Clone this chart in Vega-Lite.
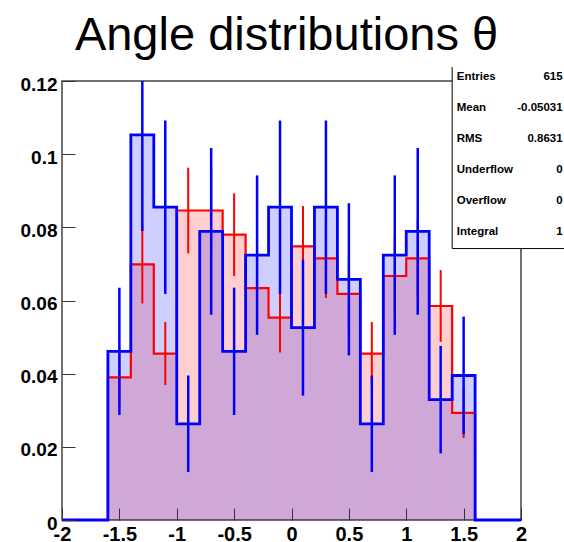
{
  "$schema": "https://vega.github.io/schema/vega-lite/v6.json",
  "width": 459,
  "height": 439,
  "autosize": {"type": "none"},
  "padding": {"left": 62, "top": 81, "right": 43, "bottom": 22},
  "background": "white",
  "title": {
    "text": "Angle distributions θ",
    "font": "Liberation Sans",
    "fontSize": 47,
    "fontWeight": "normal",
    "color": "black",
    "anchor": "middle",
    "frame": "group",
    "baseline": "alphabetic",
    "offset": -30,
    "dx": -5
  },
  "datasets": {
    "bins": [
      {"lo": -2.0, "hi": -1.8, "mid": -1.9, "red": 0, "red_err": 0, "blue": 0, "blue_err": 0},
      {"lo": -1.8, "hi": -1.6, "mid": -1.7, "red": 0, "red_err": 0, "blue": 0, "blue_err": 0},
      {"lo": -1.6, "hi": -1.4, "mid": -1.5, "red": 0.0390, "red_err": 0.0080, "blue": 0.0461, "blue_err": 0.0174},
      {"lo": -1.4, "hi": -1.2, "mid": -1.3, "red": 0.0699, "red_err": 0.0107, "blue": 0.1053, "blue_err": 0.0263},
      {"lo": -1.2, "hi": -1.0, "mid": -1.1, "red": 0.0455, "red_err": 0.0086, "blue": 0.0855, "blue_err": 0.0237},
      {"lo": -1.0, "hi": -0.8, "mid": -0.9, "red": 0.0846, "red_err": 0.0117, "blue": 0.0263, "blue_err": 0.0132},
      {"lo": -0.8, "hi": -0.6, "mid": -0.7, "red": 0.0846, "red_err": 0.0117, "blue": 0.0789, "blue_err": 0.0228},
      {"lo": -0.6, "hi": -0.4, "mid": -0.5, "red": 0.0780, "red_err": 0.0113, "blue": 0.0461, "blue_err": 0.0174},
      {"lo": -0.4, "hi": -0.2, "mid": -0.3, "red": 0.0634, "red_err": 0.0102, "blue": 0.0724, "blue_err": 0.0218},
      {"lo": -0.2, "hi": 0.0, "mid": -0.1, "red": 0.0553, "red_err": 0.0095, "blue": 0.0855, "blue_err": 0.0237},
      {"lo": 0.0, "hi": 0.2, "mid": 0.1, "red": 0.0748, "red_err": 0.0110, "blue": 0.0526, "blue_err": 0.0186},
      {"lo": 0.2, "hi": 0.4, "mid": 0.3, "red": 0.0715, "red_err": 0.0108, "blue": 0.0855, "blue_err": 0.0237},
      {"lo": 0.4, "hi": 0.6, "mid": 0.5, "red": 0.0618, "red_err": 0.0100, "blue": 0.0658, "blue_err": 0.0208},
      {"lo": 0.6, "hi": 0.8, "mid": 0.7, "red": 0.0455, "red_err": 0.0086, "blue": 0.0263, "blue_err": 0.0132},
      {"lo": 0.8, "hi": 1.0, "mid": 0.9, "red": 0.0667, "red_err": 0.0104, "blue": 0.0724, "blue_err": 0.0218},
      {"lo": 1.0, "hi": 1.2, "mid": 1.1, "red": 0.0715, "red_err": 0.0108, "blue": 0.0789, "blue_err": 0.0228},
      {"lo": 1.2, "hi": 1.4, "mid": 1.3, "red": 0.0585, "red_err": 0.0098, "blue": 0.0329, "blue_err": 0.0147},
      {"lo": 1.4, "hi": 1.6, "mid": 1.5, "red": 0.0293, "red_err": 0.0069, "blue": 0.0395, "blue_err": 0.0161},
      {"lo": 1.6, "hi": 1.8, "mid": 1.7, "red": 0, "red_err": 0, "blue": 0, "blue_err": 0},
      {"lo": 1.8, "hi": 2.0, "mid": 1.9, "red": 0, "red_err": 0, "blue": 0, "blue_err": 0}
    ],
    "stats": [
      {"stat": "Entries", "value": "615"},
      {"stat": "Mean", "value": "-0.05031"},
      {"stat": "RMS", "value": "0.8631"},
      {"stat": "Underflow", "value": "0"},
      {"stat": "Overflow", "value": "0"},
      {"stat": "Integral", "value": "1"}
    ]
  },
  "data": {"name": "bins"},
  "layer": [
    {
      "mark": {"type": "rect", "fill": "#ff0000", "fillOpacity": 0.19, "strokeWidth": 0},
      "encoding": {
        "x": {
          "field": "lo", "type": "quantitative",
          "scale": {"domain": [-2, 2], "nice": false, "zero": false},
          "axis": {
            "orient": "bottom", "title": null, "grid": false, "domain": false, "zindex": 1,
            "values": [-2, -1.5, -1, -0.5, 0, 0.5, 1, 1.5, 2],
            "labelExpr": "'' + datum.value",
            "offset": -12, "tickSize": 12, "tickColor": "#333", "tickWidth": 1,
            "labelFont": "Liberation Sans", "labelFontWeight": "bold", "labelFontSize": 20,
            "labelColor": "black", "labelPadding": 4, "labelFlush": false, "labelOverlap": false
          }
        },
        "x2": {"field": "hi"},
        "y": {
          "field": "red", "type": "quantitative",
          "scale": {"domain": [0, 0.12], "nice": false},
          "axis": {
            "orient": "left", "title": null, "grid": false, "domain": false, "zindex": 1,
            "values": [0, 0.02, 0.04, 0.06, 0.08, 0.1, 0.12],
            "labelExpr": "'' + datum.value",
            "offset": -13, "tickSize": 13, "tickColor": "#333", "tickWidth": 1,
            "labelFont": "Liberation Sans", "labelFontWeight": "bold", "labelFontSize": 19,
            "labelColor": "black", "labelPadding": 5, "labelOffset": 3,
            "labelFlush": false, "labelOverlap": false
          }
        },
        "y2": {"datum": 0}
      }
    },
    {
      "mark": {"type": "rect", "fill": "#0000ff", "fillOpacity": 0.19, "strokeWidth": 0},
      "encoding": {
        "x": {"field": "lo", "type": "quantitative"},
        "x2": {"field": "hi"},
        "y": {"field": "blue", "type": "quantitative"},
        "y2": {"datum": 0}
      }
    },
    {
      "transform": [{"fold": ["lo", "hi"], "as": ["edge", "xpos"]}],
      "mark": {"type": "line", "color": "#ff0000", "strokeWidth": 2.2},
      "encoding": {
        "x": {"field": "xpos", "type": "quantitative"},
        "y": {"field": "red", "type": "quantitative"},
        "order": [
          {"field": "xpos", "type": "quantitative"},
          {"field": "edge", "type": "ordinal", "sort": "descending"}
        ]
      }
    },
    {
      "transform": [{"filter": "datum.red > 0"}],
      "mark": {"type": "errorbar", "color": "#ff0000", "thickness": 2, "clip": true},
      "encoding": {
        "x": {"field": "mid", "type": "quantitative"},
        "y": {"field": "red", "type": "quantitative"},
        "yError": {"field": "red_err"}
      }
    },
    {
      "transform": [{"fold": ["lo", "hi"], "as": ["edge", "xpos"]}],
      "mark": {"type": "line", "color": "#0000ff", "strokeWidth": 2.8},
      "encoding": {
        "x": {"field": "xpos", "type": "quantitative"},
        "y": {"field": "blue", "type": "quantitative"},
        "order": [
          {"field": "xpos", "type": "quantitative"},
          {"field": "edge", "type": "ordinal", "sort": "descending"}
        ]
      }
    },
    {
      "transform": [{"filter": "datum.blue > 0"}],
      "mark": {"type": "errorbar", "color": "#0000ff", "thickness": 2.5, "clip": true},
      "encoding": {
        "x": {"field": "mid", "type": "quantitative"},
        "y": {"field": "blue", "type": "quantitative"},
        "yError": {"field": "blue_err"}
      }
    },
    {
      "data": {"values": [{}]},
      "mark": {"type": "rect", "fill": "white", "strokeWidth": 0, "clip": false},
      "encoding": {
        "x": {"datum": 1.4},
        "x2": {"datum": 2.45},
        "y": {"datum": 0.1238},
        "y2": {"datum": 0.0742}
      }
    },
    {
      "data": {"values": [{}]},
      "mark": {"type": "rule", "color": "black", "strokeWidth": 1, "clip": false},
      "encoding": {
        "x": {"datum": 1.4},
        "y": {"datum": 0.1238},
        "y2": {"datum": 0.0742}
      }
    },
    {
      "data": {"values": [{}]},
      "mark": {"type": "rule", "color": "black", "strokeWidth": 1, "clip": false},
      "encoding": {
        "x": {"datum": 1.4},
        "x2": {"datum": 2.45},
        "y": {"datum": 0.0742}
      }
    },
    {"data": {"name": "stats"}, "transform": [{"filter": "datum.stat === 'Entries'"}], "mark": {"type": "text", "align": "left", "baseline": "middle", "font": "Liberation Sans", "fontWeight": "bold", "fontSize": 11.5, "color": "black"}, "encoding": {"x": {"datum": 1.44}, "y": {"datum": 0.1211}, "text": {"field": "stat"}}},
    {"data": {"name": "stats"}, "transform": [{"filter": "datum.stat === 'Entries'"}], "mark": {"type": "text", "align": "right", "baseline": "middle", "font": "Liberation Sans", "fontWeight": "bold", "fontSize": 11.5, "color": "black"}, "encoding": {"x": {"datum": 2.363}, "y": {"datum": 0.1211}, "text": {"field": "value"}}},
    {"data": {"name": "stats"}, "transform": [{"filter": "datum.stat === 'Mean'"}], "mark": {"type": "text", "align": "left", "baseline": "middle", "font": "Liberation Sans", "fontWeight": "bold", "fontSize": 11.5, "color": "black"}, "encoding": {"x": {"datum": 1.44}, "y": {"datum": 0.1126}, "text": {"field": "stat"}}},
    {"data": {"name": "stats"}, "transform": [{"filter": "datum.stat === 'Mean'"}], "mark": {"type": "text", "align": "right", "baseline": "middle", "font": "Liberation Sans", "fontWeight": "bold", "fontSize": 11.5, "color": "black"}, "encoding": {"x": {"datum": 2.363}, "y": {"datum": 0.1126}, "text": {"field": "value"}}},
    {"data": {"name": "stats"}, "transform": [{"filter": "datum.stat === 'RMS'"}], "mark": {"type": "text", "align": "left", "baseline": "middle", "font": "Liberation Sans", "fontWeight": "bold", "fontSize": 11.5, "color": "black"}, "encoding": {"x": {"datum": 1.44}, "y": {"datum": 0.1041}, "text": {"field": "stat"}}},
    {"data": {"name": "stats"}, "transform": [{"filter": "datum.stat === 'RMS'"}], "mark": {"type": "text", "align": "right", "baseline": "middle", "font": "Liberation Sans", "fontWeight": "bold", "fontSize": 11.5, "color": "black"}, "encoding": {"x": {"datum": 2.363}, "y": {"datum": 0.1041}, "text": {"field": "value"}}},
    {"data": {"name": "stats"}, "transform": [{"filter": "datum.stat === 'Underflow'"}], "mark": {"type": "text", "align": "left", "baseline": "middle", "font": "Liberation Sans", "fontWeight": "bold", "fontSize": 11.5, "color": "black"}, "encoding": {"x": {"datum": 1.44}, "y": {"datum": 0.0956}, "text": {"field": "stat"}}},
    {"data": {"name": "stats"}, "transform": [{"filter": "datum.stat === 'Underflow'"}], "mark": {"type": "text", "align": "right", "baseline": "middle", "font": "Liberation Sans", "fontWeight": "bold", "fontSize": 11.5, "color": "black"}, "encoding": {"x": {"datum": 2.363}, "y": {"datum": 0.0956}, "text": {"field": "value"}}},
    {"data": {"name": "stats"}, "transform": [{"filter": "datum.stat === 'Overflow'"}], "mark": {"type": "text", "align": "left", "baseline": "middle", "font": "Liberation Sans", "fontWeight": "bold", "fontSize": 11.5, "color": "black"}, "encoding": {"x": {"datum": 1.44}, "y": {"datum": 0.0871}, "text": {"field": "stat"}}},
    {"data": {"name": "stats"}, "transform": [{"filter": "datum.stat === 'Overflow'"}], "mark": {"type": "text", "align": "right", "baseline": "middle", "font": "Liberation Sans", "fontWeight": "bold", "fontSize": 11.5, "color": "black"}, "encoding": {"x": {"datum": 2.363}, "y": {"datum": 0.0871}, "text": {"field": "value"}}},
    {"data": {"name": "stats"}, "transform": [{"filter": "datum.stat === 'Integral'"}], "mark": {"type": "text", "align": "left", "baseline": "middle", "font": "Liberation Sans", "fontWeight": "bold", "fontSize": 11.5, "color": "black"}, "encoding": {"x": {"datum": 1.44}, "y": {"datum": 0.0786}, "text": {"field": "stat"}}},
    {"data": {"name": "stats"}, "transform": [{"filter": "datum.stat === 'Integral'"}], "mark": {"type": "text", "align": "right", "baseline": "middle", "font": "Liberation Sans", "fontWeight": "bold", "fontSize": 11.5, "color": "black"}, "encoding": {"x": {"datum": 2.363}, "y": {"datum": 0.0786}, "text": {"field": "value"}}}
  ],
  "config": {
    "view": {"stroke": "#444", "strokeWidth": 1.5}
  }
}
